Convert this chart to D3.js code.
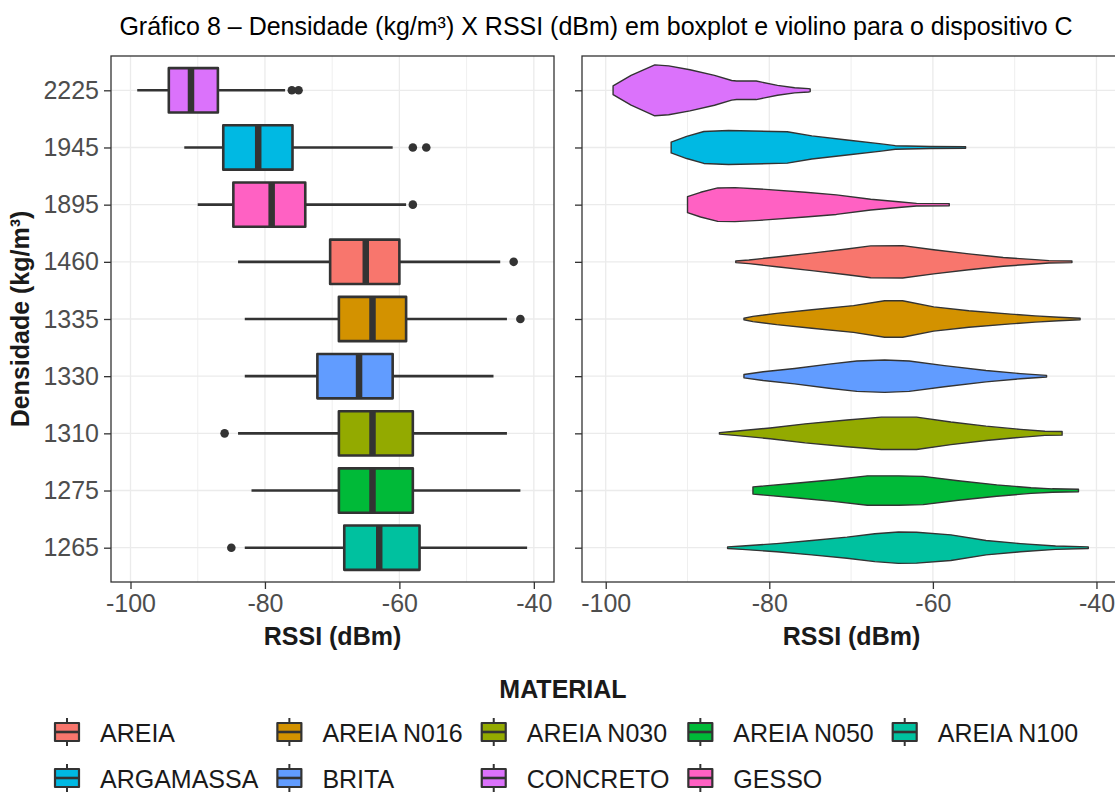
<!DOCTYPE html>
<html>
<head>
<meta charset="utf-8">
<script src="https://cdn.jsdelivr.net/npm/d3@7"></script>
<style>
  body { margin: 0; background: #ffffff; }
  text { font-family: "Liberation Sans", Arial, Helvetica, sans-serif; }
</style>
</head>
<body>
<svg id="chart" width="1115" height="794"></svg>
<script>
// ---- data -------------------------------------------------------------
const densities = ["2225", "1945", "1895", "1460", "1335", "1330", "1310", "1275", "1265"];
const materials = ["CONCRETO", "ARGAMASSA", "GESSO", "AREIA", "AREIA N016", "BRITA", "AREIA N030", "AREIA N050", "AREIA N100"];

// boxplot statistics per density (RSSI, dBm)
const whiskerLow  = [-99, -92, -90, -84, -83, -83, -84, -82, -83];
const quartile1   = [-94.3, -86.2, -84.7, -70.3, -69, -72.2, -69, -69, -68.2];
const medians     = [-91, -81, -79, -65, -64, -66, -64, -64, -63];
const quartile3   = [-87, -75.9, -74, -60, -59, -61, -58, -58, -57];
const whiskerHigh = [-77, -61, -59, -45, -44, -46, -44, -42, -41];
const outliers    = [[-76, -75], [-58, -56], [-58], [-43], [-42], [], [-86], [], [-85]];

// violin outlines: [RSSI, relative density]
const violinConcreto  = [[-99.1,0.17],[-96.9,0.58],[-94,0.99],[-92.3,0.95],[-89.7,0.8],[-86.7,0.58],[-84.6,0.38],[-84,0.36],[-81.6,0.36],[-79,0.19],[-76.9,0.1],[-75.2,0.066],[-75,0.05]];
const violinArgamassa = [[-92,0.21],[-90.1,0.43],[-88,0.62],[-85,0.66],[-77.8,0.61],[-74.8,0.45],[-70.5,0.29],[-66.3,0.14],[-64.6,0.07],[-60.3,0.04],[-56,0.03]];
const violinGesso     = [[-90,0.31],[-88.4,0.48],[-86.3,0.65],[-84.2,0.66],[-81.2,0.61],[-75.6,0.48],[-71.8,0.38],[-67.6,0.21],[-64.2,0.11],[-62,0.05],[-58,0.04]];
const violinAreia     = [[-84.1,0.03],[-82.5,0.07],[-79.1,0.19],[-74.8,0.34],[-70.5,0.5],[-67.6,0.62],[-63.7,0.63],[-59.9,0.47],[-55.6,0.31],[-51.4,0.17],[-47.5,0.085],[-45.8,0.047],[-43,0.03]];
const violinN016      = [[-83.1,0.03],[-82,0.1],[-79.1,0.22],[-74.8,0.36],[-69.7,0.52],[-65.9,0.71],[-63.7,0.71],[-59.9,0.47],[-55.6,0.32],[-50.5,0.19],[-47.5,0.12],[-44.6,0.066],[-42,0.03]];
const violinBrita     = [[-83.1,0.066],[-80.75,0.17],[-76.9,0.3],[-72.7,0.47],[-69.3,0.59],[-65.9,0.63],[-62.9,0.59],[-58.6,0.41],[-53.5,0.22],[-49.3,0.1],[-46.1,0.03]];
const violinN030      = [[-86.1,0.03],[-84.2,0.08],[-79.9,0.21],[-75.6,0.37],[-70.5,0.52],[-66.3,0.63],[-62,0.63],[-57.8,0.44],[-53.5,0.28],[-49.3,0.155],[-46.3,0.08],[-44.2,0.07]];
const violinN050      = [[-82,0.14],[-76.5,0.29],[-72.2,0.42],[-68,0.57],[-64.2,0.57],[-61.2,0.55],[-56.9,0.38],[-52.2,0.22],[-48,0.11],[-45.4,0.066],[-42.2,0.05]];
const violinN100      = [[-85.1,0.03],[-83.3,0.066],[-79.1,0.16],[-74.8,0.28],[-70.5,0.41],[-67.1,0.54],[-64.2,0.61],[-62,0.6],[-57.8,0.5],[-53.5,0.28],[-49.3,0.16],[-45,0.066],[-41,0.03]];
const violins = [violinConcreto, violinArgamassa, violinGesso, violinAreia, violinN016, violinBrita, violinN030, violinN050, violinN100];

// legend order and fill colours
const legendOrder = ["AREIA", "AREIA N016", "AREIA N030", "AREIA N050", "AREIA N100", "ARGAMASSA", "BRITA", "CONCRETO", "GESSO"];
const palette     = ["#F8766D", "#D39200", "#93AA00", "#00BA38", "#00C19F", "#00B9E3", "#619CFF", "#DB72FB", "#FF61C3"];

const xTicks = [-100, -80, -60, -40];
const xMinor = [-90, -70, -50];

const titleText = "Gráfico 8 – Densidade (kg/m³) X RSSI (dBm) em boxplot e violino para o dispositivo C";

// ---- layout -----------------------------------------------------------
const svg = d3.select("#chart");
const panelTop = 56, panelBottom = 582;
const xDomain = [-102.9, -37.0];
const panels = [
  { x0: 111, x1: 554, kind: "box" },
  { x0: 582, x1: 1121, kind: "violin" }
];
const ink = "#333333";
const fontSize = 25;

const color = d3.scaleOrdinal(legendOrder, palette);
const y = d3.scalePoint().domain(densities).range([panelTop, panelBottom]).padding(0.6);
const step = y.step();

svg.append("rect").attr("width", 1115).attr("height", 794).attr("fill", "#fff");

// title
svg.append("text")
  .attr("x", 596).attr("y", 35)
  .attr("text-anchor", "middle")
  .attr("font-size", fontSize)
  .attr("fill", "#000")
  .text(titleText);

panels.forEach(p => {
  const x = d3.scaleLinear().domain(xDomain).range([p.x0, p.x1]);
  const g = svg.append("g");

  // grid
  g.selectAll(".minor").data(xMinor).join("line")
    .attr("x1", d => x(d)).attr("x2", d => x(d))
    .attr("y1", panelTop).attr("y2", panelBottom)
    .attr("stroke", "#EBEBEB").attr("stroke-width", 0.8);
  g.selectAll(".major").data(xTicks).join("line")
    .attr("x1", d => x(d)).attr("x2", d => x(d))
    .attr("y1", panelTop).attr("y2", panelBottom)
    .attr("stroke", "#EBEBEB").attr("stroke-width", 1.3);
  g.selectAll(".hgrid").data(densities).join("line")
    .attr("x1", p.x0).attr("x2", p.x1)
    .attr("y1", d => y(d)).attr("y2", d => y(d))
    .attr("stroke", "#EBEBEB").attr("stroke-width", 1.3);

  if (p.kind === "box") {
    const bh = step * 0.775;
    densities.forEach((d, i) => {
      const cy = y(d);
      const fill = color(materials[i]);
      g.append("line")
        .attr("x1", x(whiskerLow[i])).attr("x2", x(whiskerHigh[i]))
        .attr("y1", cy).attr("y2", cy)
        .attr("stroke", ink).attr("stroke-width", 2.6);
      g.append("rect")
        .attr("x", x(quartile1[i])).attr("y", cy - bh / 2)
        .attr("width", x(quartile3[i]) - x(quartile1[i])).attr("height", bh)
        .attr("fill", fill).attr("stroke", ink).attr("stroke-width", 2.6)
        .attr("stroke-linejoin", "round");
      g.append("line")
        .attr("x1", x(medians[i])).attr("x2", x(medians[i]))
        .attr("y1", cy - bh / 2).attr("y2", cy + bh / 2)
        .attr("stroke", ink).attr("stroke-width", 6.5);
      g.selectAll(null).data(outliers[i]).join("circle")
        .attr("cx", v => x(v)).attr("cy", cy).attr("r", 4.3)
        .attr("fill", ink);
    });
  } else {
    const half = d3.scaleLinear().domain([0, 1]).range([0, step * 0.45]);
    densities.forEach((d, i) => {
      const cy = y(d);
      const area = d3.area()
        .x(v => x(v[0]))
        .y0(v => cy + half(v[1]))
        .y1(v => cy - half(v[1]));
      g.append("path")
        .attr("d", area(violins[i]) + "Z")
        .attr("fill", color(materials[i]))
        .attr("stroke", ink).attr("stroke-width", 1.4)
        .attr("stroke-linejoin", "round");
    });
  }

  // panel border
  g.append("rect")
    .attr("x", p.x0).attr("y", panelTop)
    .attr("width", p.x1 - p.x0).attr("height", panelBottom - panelTop)
    .attr("fill", "none").attr("stroke", ink).attr("stroke-width", 1.3);

  // x axis (plain hyphen-minus in the labels)
  const xAxis = g.append("g").attr("transform", `translate(0,${panelBottom})`)
    .call(d3.axisBottom(x).tickValues(xTicks).tickFormat(d => String(d))
      .tickSize(7).tickPadding(5).tickSizeOuter(0));
  xAxis.select(".domain").remove();
  xAxis.selectAll(".tick line").attr("stroke", ink).attr("stroke-width", 1.3);
  xAxis.selectAll(".tick text")
    .attr("font-size", fontSize).attr("fill", "#4D4D4D")
    .attr("font-family", "Liberation Sans, Arial, sans-serif");

  // y axis
  const yAxis = g.append("g").attr("transform", `translate(${p.x0},0)`)
    .call(d3.axisLeft(y).tickSize(7).tickPadding(5).tickSizeOuter(0));
  yAxis.select(".domain").remove();
  yAxis.selectAll(".tick line").attr("stroke", ink).attr("stroke-width", 1.3);
  if (p.kind === "box") {
    yAxis.selectAll(".tick text")
      .attr("font-size", fontSize).attr("fill", "#4D4D4D")
      .attr("font-family", "Liberation Sans, Arial, sans-serif");
  } else {
    yAxis.selectAll(".tick text").remove();
  }

  // x axis title
  g.append("text")
    .attr("x", (p.x0 + p.x1) / 2)
    .attr("y", 645)
    .attr("text-anchor", "middle")
    .attr("font-size", fontSize).attr("font-weight", "bold")
    .attr("fill", "#1a1a1a")
    .text("RSSI (dBm)");
});

// y axis title
svg.append("text")
  .attr("transform", `translate(29,${(panelTop + panelBottom) / 2}) rotate(-90)`)
  .attr("text-anchor", "middle")
  .attr("font-size", fontSize).attr("font-weight", "bold")
  .attr("fill", "#1a1a1a")
  .text("Densidade (kg/m³)");

// ---- legend -----------------------------------------------------------
svg.append("text")
  .attr("x", 563).attr("y", 698)
  .attr("text-anchor", "middle")
  .attr("font-size", fontSize).attr("font-weight", "bold")
  .attr("fill", "#1a1a1a")
  .text("MATERIAL");

const nCols = 5;
const rowBaselines = [742, 788];
const legend = svg.append("g");

// measure labels so each column is as wide as its widest label
const measure = svg.append("text").attr("font-size", fontSize).attr("visibility", "hidden");
const labelWidth = legendOrder.map(l => { measure.text(l); return measure.node().getComputedTextLength(); });
measure.remove();
const colWidths = d3.range(nCols).map(c =>
  d3.max(legendOrder.map((l, i) => (i % nCols === c ? labelWidth[i] : 0))));
const colStarts = [100];
for (let c = 1; c < nCols; c++) colStarts.push(colStarts[c - 1] + colWidths[c - 1] + 64);

legendOrder.forEach((label, i) => {
  const col = i % nCols, row = Math.floor(i / nCols);
  const tx = colStarts[col], base = rowBaselines[row];
  const kx = tx - 33, ky = base - 10;
  const k = legend.append("g");
  k.append("line").attr("x1", kx).attr("x2", kx).attr("y1", ky - 14).attr("y2", ky + 14)
    .attr("stroke", ink).attr("stroke-width", 2);
  k.append("rect").attr("x", kx - 12).attr("y", ky - 9).attr("width", 24).attr("height", 18)
    .attr("fill", color(label)).attr("stroke", ink).attr("stroke-width", 2.2)
    .attr("stroke-linejoin", "round");
  k.append("line").attr("x1", kx - 12).attr("x2", kx + 12).attr("y1", ky).attr("y2", ky)
    .attr("stroke", ink).attr("stroke-width", 2.6);
  legend.append("text")
    .attr("x", tx).attr("y", base)
    .attr("font-size", fontSize).attr("fill", "#1a1a1a")
    .text(label);
});
</script>
</body>
</html>
